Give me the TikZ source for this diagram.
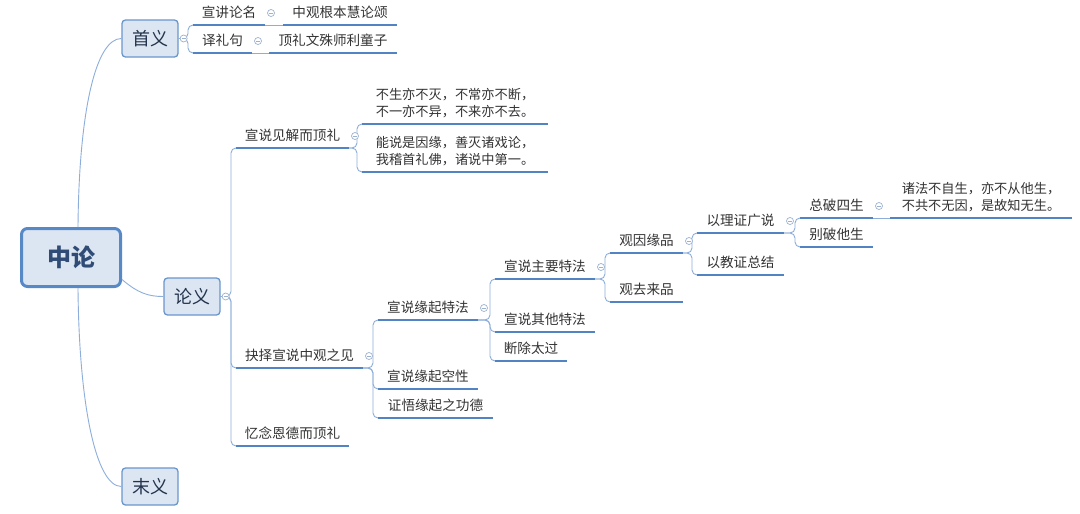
\documentclass[tikz,border=0pt]{standalone}
\usepackage{fontspec}
\setmainfont{Noto Sans CJK SC}
\usetikzlibrary{calc}
\definecolor{uline}{HTML}{5283C2}
\definecolor{connc}{HTML}{8DAEDB}
\definecolor{boxfill}{HTML}{DCE6F2}
\definecolor{boxedge}{HTML}{6A96CE}
\definecolor{rootedge}{HTML}{5889C7}
\definecolor{roottext}{HTML}{2F4B76}
\definecolor{boxtext}{HTML}{24344C}
\definecolor{txt}{HTML}{333333}
\definecolor{btnc}{HTML}{9DB2D0}
\tikzset{
  topic/.style={anchor=south west, inner xsep=0pt, inner ysep=4.5pt, text depth=3pt,
    outer sep=0pt, text=txt, font=\fontsize{13.6}{17}\selectfont},
  verse/.style={topic, align=left, font=\fontsize{13.2}{17.5}\selectfont},
  ulinestyle/.style={draw=uline, line width=1.8pt},
  conn/.style={draw=connc, line width=0.9pt, rounded corners=5pt},
  mbox/.style={draw=boxedge, fill=boxfill, line width=1.3pt, rounded corners=3.5pt,
    minimum width=56pt, minimum height=37pt, inner sep=0pt, text=boxtext,
    font=\fontsize{18}{22}\selectfont},
  rootbox/.style={draw=rootedge, fill=boxfill, line width=3pt, rounded corners=6pt,
    minimum width=99pt, minimum height=58pt, inner sep=0pt, text=roottext,
    font=\fontsize{24}{28}\selectfont\bfseries},
  btn/.style={circle, draw=btnc, fill=white, line width=0.7pt, minimum size=7pt, inner sep=0pt,
    path picture={\draw[btnc, line width=0.6pt] ([xshift=-2pt]path picture bounding box.center) -- ([xshift=2pt]path picture bounding box.center);}}
}
\newcommand\branchto[2]{\draw[conn] (#1) -| ([xshift=-5pt]#2.south west) -- (#2.south west);}
\begin{document}
\begin{tikzpicture}[x=1pt,y=-1pt]
\fill[white] (0,0) rectangle (1080,514);
\useasboundingbox (0,0) rectangle (1080,514);

% main boxes
\node[rootbox] (root) at (71,257.5) {中论};
\node[mbox] (shou) at (150,38.5) {首义};
\node[mbox] (lun) at (192,296.5) {论义};
\node[mbox] (mo) at (150,486.5) {末义};

% topics
\node[topic, minimum width=72pt] (t1) at (193,25) {宣讲论名};
\node[topic, minimum width=114pt] (t1a) at (283,25) {中观根本慧论颂};
\node[topic, minimum width=59pt] (t2) at (193,53) {译礼句};
\node[topic, minimum width=128pt] (t2a) at (269,53) {顶礼文殊师利童子};

\node[topic, minimum width=113pt] (a1) at (236,148) {宣说见解而顶礼};
\node[topic, minimum width=127pt] (a2) at (236,368) {抉择宣说中观之见};
\node[topic, minimum width=113pt] (a3) at (236,446) {忆念恩德而顶礼};

\node[verse, minimum width=186pt] (v1) at (362,124) {不生亦不灭，不常亦不断，\\不一亦不异，不来亦不去。};
\node[verse, minimum width=186pt] (v2) at (362,172) {能说是因缘，善灭诸戏论，\\我稽首礼佛，诸说中第一。};

\node[topic, minimum width=100pt] (b1) at (378,320) {宣说缘起特法};
\node[topic, minimum width=100pt] (b2) at (378,389) {宣说缘起空性};
\node[topic, minimum width=115pt] (b3) at (378,418) {证悟缘起之功德};

\node[topic, minimum width=100pt] (c1) at (495,279) {宣说主要特法};
\node[topic, minimum width=100pt] (c2) at (495,332) {宣说其他特法};
\node[topic, minimum width=72pt] (c3) at (495,361) {断除太过};

\node[topic, minimum width=73pt] (d1) at (610,253) {观因缘品};
\node[topic, minimum width=73pt] (d2) at (610,302) {观去来品};

\node[topic, minimum width=87pt] (e1) at (697,233) {以理证广说};
\node[topic, minimum width=87pt] (e2) at (697,275) {以教证总结};

\node[topic, minimum width=73pt] (f1) at (800,218) {总破四生};
\node[topic, minimum width=73pt] (f2) at (800,247) {别破他生};

\node[verse, minimum width=182pt] (g1) at (890,218) {诸法不自生，亦不从他生，\\不共不无因，是故知无生。};

% root connectors
\draw[conn] ([xshift=7pt]root.north) .. controls (79,110) and (96,38.5) .. (shou.west);
\draw[conn] ([xshift=7pt]root.south) .. controls (79,405) and (96,486.5) .. (mo.west);
\draw[conn] ([yshift=-22pt]root.east) .. controls (138,293) and (148,296.5) .. (lun.west);

% branch connectors
\branchto{shou.east}{t1}
\branchto{shou.east}{t2}
\draw[conn] (t1.south east) -- (t1a.south west);
\draw[conn] (t2.south east) -- (t2a.south west);
\branchto{lun.east}{a1}
\branchto{lun.east}{a2}
\branchto{lun.east}{a3}
\branchto{a1.south east}{v1}
\branchto{a1.south east}{v2}
\branchto{a2.south east}{b1}
\branchto{a2.south east}{b2}
\branchto{a2.south east}{b3}
\branchto{b1.south east}{c1}
\branchto{b1.south east}{c2}
\branchto{b1.south east}{c3}
\branchto{c1.south east}{d1}
\branchto{c1.south east}{d2}
\branchto{d1.south east}{e1}
\branchto{d1.south east}{e2}
\branchto{e1.south east}{f1}
\branchto{e1.south east}{f2}
\draw[conn] (f1.south east) -- (g1.south west);

% underlines
\foreach \n in {t1,t1a,t2,t2a,a1,a2,a3,v1,v2,b1,b2,b3,c1,c2,c3,d1,d2,e1,e2,f1,f2,g1}
  \draw[ulinestyle] (\n.south west) -- (\n.south east);

% collapse buttons
\node[btn] (bshou) at ([xshift=5pt]shou.east) {};
\node[btn] (blun) at ([xshift=5pt]lun.east) {};
\foreach \n in {t1,t2,a1,a2,b1,c1,d1,e1,f1}
  \node[btn] (b\n) at ([shift={(6,-12)}]\n.south east) {};
\end{tikzpicture}
\end{document}
